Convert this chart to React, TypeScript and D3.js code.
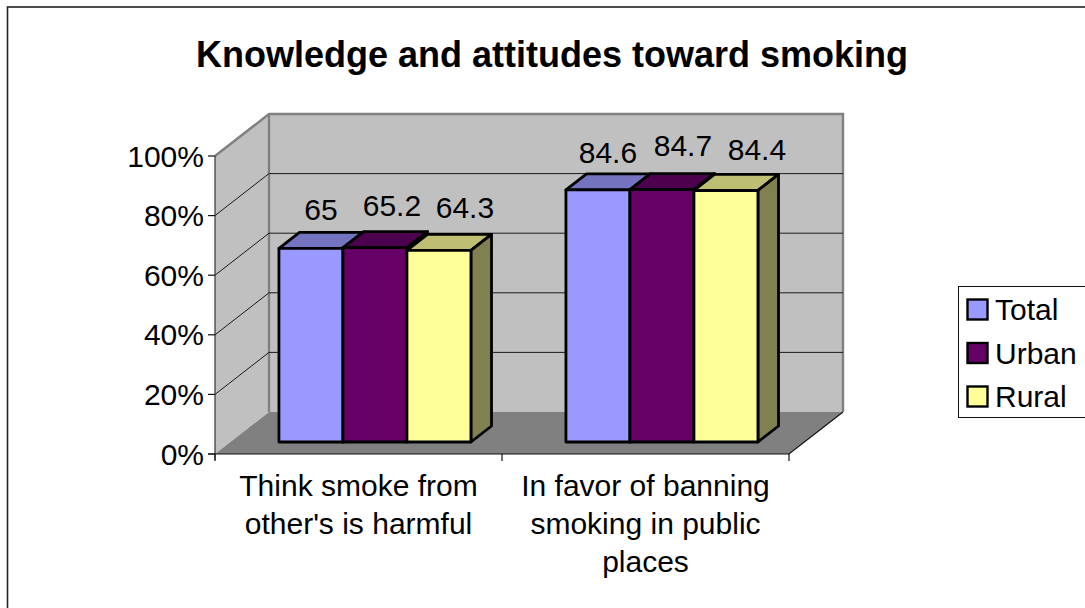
import React from "react";
import * as d3 from "d3";

const titleText = "Knowledge and attitudes toward smoking";
const categories = ["Think smoke from other's is harmful", "In favor of banning smoking in public places"];
const categoryLines = [
  ["Think smoke from", "other's is harmful"],
  ["In favor of banning", "smoking in public", "places"],
];
const seriesNames = ["Total", "Urban", "Rural"];
const totalValues = [65, 84.6];
const urbanValues = [65.2, 84.7];
const ruralValues = [64.3, 84.4];
const percentTicks = [0, 20, 40, 60, 80, 100];

const seriesValues = [totalValues, urbanValues, ruralValues];
const faceColors = ["#9999FF", "#660066", "#FFFF99"];
const topColors = ["#7373BF", "#4D004D", "#BFBF73"];
const sideColors = ["#4D4D80", "#330033", "#808050"];
// manual label nudges [dx from bar centre, dy above bar top]
const labelNudge = [
  [[10, 28], [17, 32], [26, 32]],
  [[10, 27], [21, 34], [31, 30]],
];

const FONT = "'Liberation Sans', Arial, sans-serif";
const W = 1085, H = 608;

const y = d3.scaleLinear().domain([0, 100]).range([454, 156]);
const x = d3.scaleBand<string>().domain(categories).range([215, 789]);
const inner = d3.scaleBand<string>().domain(seriesNames).range([48.5, 240.5]);
const depthX = d3.scaleLinear().domain([0, 1]).range([0, 54]);
const depthY = d3.scaleLinear().domain([0, 1]).range([0, -42]);
const P = (px: number, py: number, z: number): [number, number] => [px + depthX(z), py + depthY(z)];
const poly = (pts: [number, number][]) => d3.line()(pts)! + "Z";
const Z0 = 0.286, Z1 = 0.667;

export default function App() {
  const x0 = 215, x1 = 789;
  const yb = y(0), yt = y(100);
  return (
    <svg width={W} height={H} viewBox={`0 0 ${W} ${H}`} style={{ position: "fixed", left: 0, top: 0, background: "#fff" }}>
      <rect x={7.5} y={7} width={W + 20} height={H + 20} fill="#fff" stroke="#222" strokeWidth={1.6} />
      <text x={552} y={67} textAnchor="middle" fontFamily={FONT} fontWeight="bold" fontSize={36} fill="#000">{titleText}</text>

      {/* walls */}
      <path d={poly([P(x0, yb, 0), P(x0, yt, 0), P(x0, yt, 1), P(x0, yb, 1)])} fill="#C0C0C0" />
      <path d={poly([P(x0, yb, 1), P(x0, yt, 1), P(x1, yt, 1), P(x1, yb, 1)])} fill="#C0C0C0" />
      <path d={poly([P(x0, yb, 0), P(x0, yb, 1), P(x1, yb, 1), P(x1, yb, 0)])} fill="#808080" />
      {/* wall edges */}
      <path d={d3.line()([P(x0, yt, 0), P(x0, yt, 1), P(x1, yt, 1), P(x1, yb, 1)])!} fill="none" stroke="#808080" strokeWidth={2.4} />
      <path d={d3.line()([P(x0, yt, 1), P(x0, yb, 1)])!} fill="none" stroke="#808080" strokeWidth={2.4} />

      {/* gridlines */}
      {percentTicks.filter((t) => t > 0 && t < 100).map((t) => (
        <path key={t} d={d3.line()([P(x0, y(t), 0), P(x0, y(t), 1), P(x1, y(t), 1)])!} fill="none" stroke="#1a1a1a" strokeWidth={1} />
      ))}

      {/* axes */}
      <path d={`M${x0},${yt}V${yb + 6}`} stroke="#333" strokeWidth={1.2} fill="none" />
      <path d={d3.line()([[x0 - 7, yb], [x1, yb], P(x1, yb, 1)])!} stroke="#111" strokeWidth={1.2} fill="none" />
      {percentTicks.map((t) => (
        <g key={t}>
          <path d={`M${x0 - 7},${y(t)}H${x0}`} stroke="#111" strokeWidth={1.2} />
          <text x={204} y={y(t) + 10.5} textAnchor="end" fontFamily={FONT} fontSize={30} fill="#000">{t}%</text>
        </g>
      ))}
      {[x0, x0 + x.bandwidth(), x1].map((v) => (
        <path key={v} d={`M${v},${yb}V${yb + 7}`} stroke="#111" strokeWidth={1.2} />
      ))}

      {/* bars */}
      {categories.map((c, ci) => (
        <g key={c}>
          {seriesNames.map((s, si) => {
            const v = seriesValues[si][ci];
            const left = x(c)! + inner(s)!;
            const right = left + inner.bandwidth();
            const top = y(v), bot = yb;
            return (
              <g key={s} stroke="#000" strokeWidth={2.8} strokeLinejoin="round">
                <path d={poly([P(left, top, Z0), P(left, top, Z1), P(right, top, Z1), P(right, top, Z0)])} fill={topColors[si]} />
                <path d={poly([P(right, top, Z0), P(right, top, Z1), P(right, bot, Z1), P(right, bot, Z0)])} fill={sideColors[si]} />
                <path d={poly([P(left, top, Z0), P(right, top, Z0), P(right, bot, Z0), P(left, bot, Z0)])} fill={faceColors[si]} />
              </g>
            );
          })}
        </g>
      ))}

      {/* value labels */}
      {categories.map((c, ci) =>
        seriesNames.map((s, si) => {
          const v = seriesValues[si][ci];
          const [px, py] = P(x(c)! + inner(s)! + inner.bandwidth() / 2, y(v), Z0);
          const [nx, ny] = labelNudge[ci][si];
          return (
            <text key={c + s} x={px + nx} y={py - ny} textAnchor="middle" fontFamily={FONT} fontSize={30} fill="#000">{v}</text>
          );
        })
      )}

      {/* category labels */}
      {categories.map((c, ci) => (
        <text key={c} textAnchor="middle" fontFamily={FONT} fontSize={30} fill="#000">
          {categoryLines[ci].map((line, li) => (
            <tspan key={li} x={x(c)! + x.bandwidth() / 2} y={496 + li * 38}>{line}</tspan>
          ))}
        </text>
      ))}

      {/* legend */}
      <rect x={958.5} y={286.5} width={W} height={131} fill="#fff" stroke="#111" strokeWidth={1} />
      {seriesNames.map((s, si) => (
        <g key={s}>
          <rect x={967.5} y={299.5 + si * 43.5} width={20} height={20} fill={faceColors[si]} stroke="#000" strokeWidth={2.4} />
          <text x={995} y={320 + si * 43.5} fontFamily={FONT} fontSize={30} fill="#000">{s}</text>
        </g>
      ))}
    </svg>
  );
}
